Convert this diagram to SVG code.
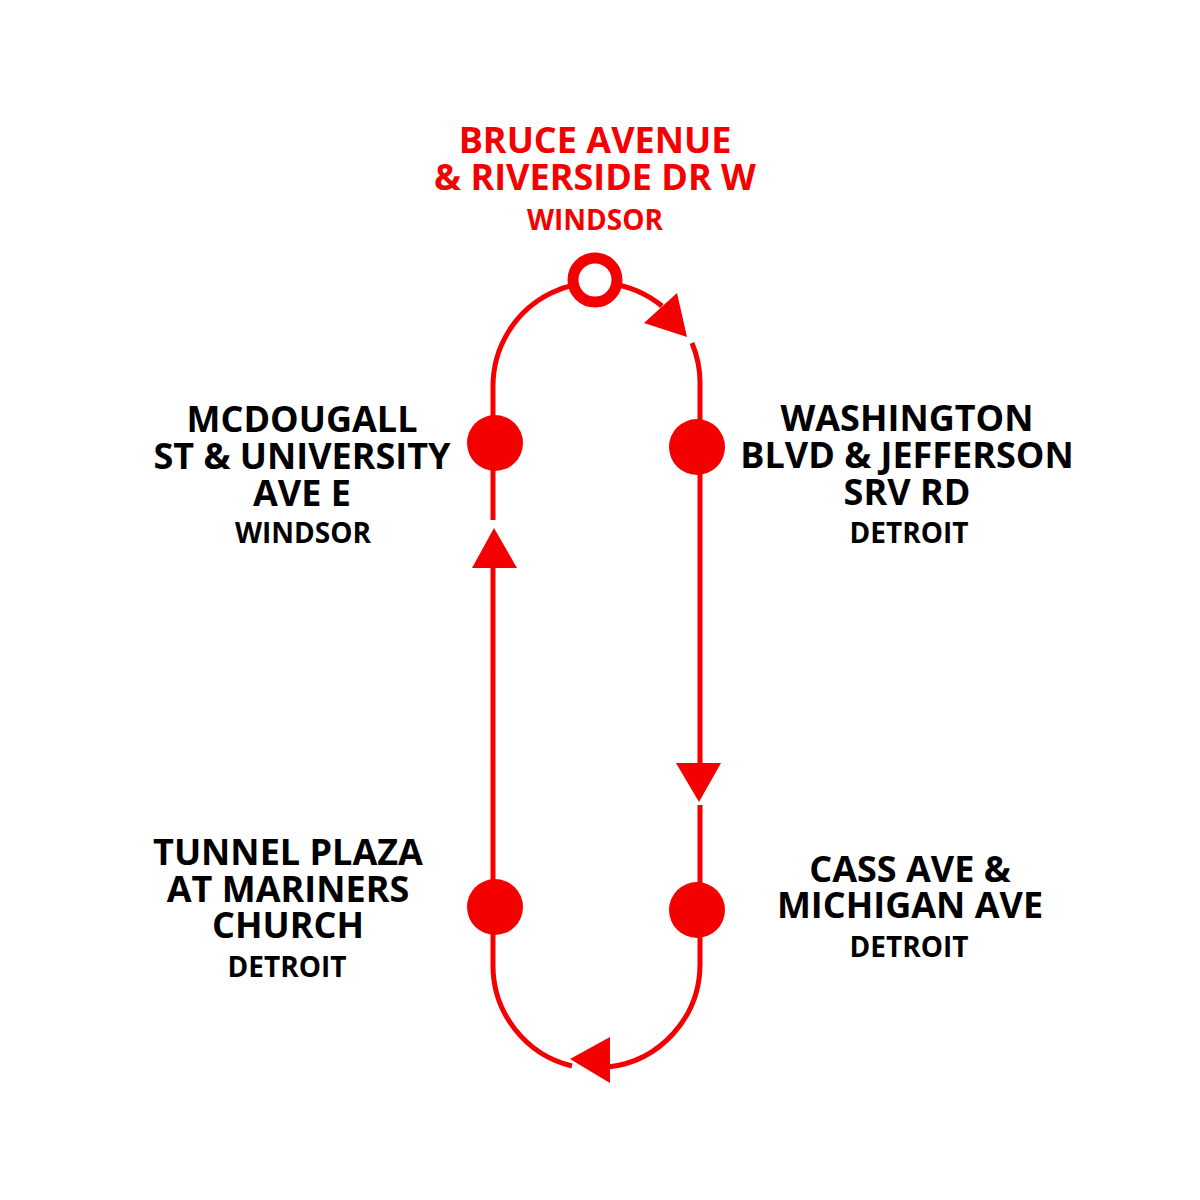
<svg xmlns="http://www.w3.org/2000/svg" width="1200" height="1200" viewBox="0 0 1200 1200">
<style>
.route{fill:none;stroke:#f40000;stroke-width:5}
.arrow{fill:#f40000}
.stop{fill:#f40000}
.origin{fill:#fff;stroke:#f40000;stroke-width:11}
.name{font-family:"Open Sans","Liberation Sans",sans-serif;font-weight:700;font-size:36px;text-anchor:middle;fill:#000}
.city{font-family:"Open Sans","Liberation Sans",sans-serif;font-weight:700;font-size:28px;text-anchor:middle;fill:#000}
.red{fill:#f40000}
</style>
<rect width="1200" height="1200" fill="#fff"/>
<g id="connectors">
<path class="route" d="M 493 520 L 493 386 A 103.5 103.5 0 0 1 662 306"/>
<path class="route" d="M 692 343 A 103.5 103.5 0 0 1 700 386 L 700 764"/>
<path class="route" d="M 700 805 L 700 965 A 103.5 103.5 0 0 1 608 1067"/>
<path class="route" d="M 572 1066 A 103.5 103.5 0 0 1 493 965 L 493 568"/>
<polygon class="arrow" points="677,293 687,337 644,323"/>
<polygon class="arrow" points="676,763 721,763 699,802"/>
<polygon class="arrow" points="610,1037 610,1083 570,1059"/>
<polygon class="arrow" points="472,568 517,568 494,528"/>
</g>
<g id="node-bruce">
<circle class="origin" cx="595" cy="280" r="22"/>
<text class="name red" x="595" y="153">BRUCE AVENUE</text>
<text class="name red" x="595" y="190">&amp; RIVERSIDE DR W</text>
<text class="city red" x="595" y="230">WINDSOR</text>
</g>
<g id="node-washington">
<circle class="stop" cx="697" cy="447" r="28"/>
<text class="name" x="907" y="431">WASHINGTON</text>
<text class="name" x="907" y="468">BLVD &amp; JEFFERSON</text>
<text class="name" x="907" y="505">SRV RD</text>
<text class="city" x="909" y="543">DETROIT</text>
</g>
<g id="node-cass">
<circle class="stop" cx="697" cy="910" r="28"/>
<text class="name" x="910" y="882">CASS AVE &amp;</text>
<text class="name" x="910" y="918">MICHIGAN AVE</text>
<text class="city" x="909" y="957">DETROIT</text>
</g>
<g id="node-tunnel">
<circle class="stop" cx="495" cy="907" r="28"/>
<text class="name" x="288" y="865">TUNNEL PLAZA</text>
<text class="name" x="288" y="902">AT MARINERS</text>
<text class="name" x="288" y="938">CHURCH</text>
<text class="city" x="287" y="977">DETROIT</text>
</g>
<g id="node-mcdougall">
<circle class="stop" cx="495" cy="443" r="28"/>
<text class="name" x="302" y="432">MCDOUGALL</text>
<text class="name" x="302" y="469">ST &amp; UNIVERSITY</text>
<text class="name" x="302" y="506">AVE E</text>
<text class="city" x="303" y="543">WINDSOR</text>
</g>
</svg>
